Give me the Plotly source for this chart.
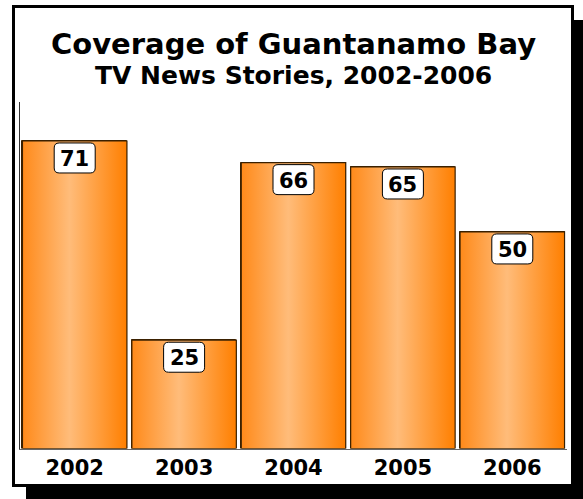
import plotly.graph_objects as go

years = ["2002", "2003", "2004", "2005", "2006"]
stories = [71, 25, 66, 65, 50]
title_line1 = "Coverage of Guantanamo Bay"
title_line2 = "TV News Stories, 2002-2006"

W, H = 583, 499
BAR_W = 0.955
FONT = "DejaVu Sans"
grad = [[0.0, "#FF8A1A"], [0.45, "#FFBC7A"], [1.0, "#FF7F00"]]

xs = list(range(len(years)))

fig = go.Figure()
fig.add_trace(go.Bar(
    x=xs, y=stories, width=BAR_W,
    marker=dict(color="#FF9A3A", line=dict(color="#3a2000", width=1)),
    hoverinfo="skip", showlegend=False,
))
# gradient overlay for each bar, built from the same data
for i, v in zip(xs, stories):
    x0, x1 = i - BAR_W / 2, i + BAR_W / 2
    fig.add_trace(go.Scatter(
        x=[x0, x1, x1, x0, x0], y=[0, 0, v, v, 0],
        mode="lines", fill="toself",
        fillgradient=dict(type="horizontal", colorscale=grad),
        line=dict(color="#3a2000", width=1.2),
        hoverinfo="skip", showlegend=False,
    ))

def rounded_box(l, r, t, b, rad):
    return (f"M {l+rad},{t} L {r-rad},{t} Q {r},{t} {r},{t-rad} "
            f"L {r},{b+rad} Q {r},{b} {r-rad},{b} L {l+rad},{b} "
            f"Q {l},{b} {l},{b+rad} L {l},{t-rad} Q {l},{t} {l+rad},{t} Z")

BOX_PATH = rounded_box(-20.5, 20.5, -2, -32, 5)

shapes = []
for i, v in zip(xs, stories):
    shapes.append(dict(
        type="path", xref="x", yref="y",
        xsizemode="pixel", ysizemode="pixel", xanchor=i, yanchor=v,
        path=BOX_PATH, fillcolor="white",
        line=dict(color="black", width=1), layer="above",
    ))
    fig.add_annotation(
        x=i, y=v, xref="x", yref="y", yanchor="top", yshift=-2,
        text=f"<b>{v}</b>", showarrow=False,
        font=dict(family=FONT, size=21, color="black"),
        width=41, height=30, borderpad=0,
    )

def py(p):
    return 1 - p / H

def px(p):
    return p / W

fig.add_annotation(x=px(293), y=py(44), xref="paper", yref="paper",
                   text=f"<b>{title_line1}</b>", showarrow=False,
                   font=dict(family=FONT, size=29, color="black"),
                   xanchor="center", yanchor="middle")
fig.add_annotation(x=px(293), y=py(75), xref="paper", yref="paper",
                   text=f"<b>{title_line2}</b>", showarrow=False,
                   font=dict(family=FONT, size=25, color="black"),
                   xanchor="center", yanchor="middle")

shapes = [
    # drop shadow
    dict(type="rect", xref="paper", yref="paper",
         x0=px(26), x1=px(W + 20), y0=py(H + 20), y1=py(20),
         fillcolor="black", line=dict(width=0), layer="below"),
    # frame
    dict(type="rect", xref="paper", yref="paper",
         x0=px(13.5), x1=px(572.5), y0=py(485.5), y1=py(6.5),
         fillcolor="white", line=dict(color="black", width=3), layer="below"),
] + shapes

fig.update_layout(
    width=W, height=H,
    margin=dict(l=0, r=0, t=0, b=0),
    paper_bgcolor="white",
    plot_bgcolor="rgba(0,0,0,0)",
    shapes=shapes,
    bargap=0,
    xaxis=dict(
        domain=[px(20), px(567)], range=[-0.5, 4.5],
        tickvals=xs, ticktext=[f"<b>{y}</b>" for y in years],
        tickfont=dict(family=FONT, size=21, color="black"),
        showgrid=False, zeroline=False,
        showline=True, linecolor="#666666", linewidth=1,
        ticks="", fixedrange=True,
    ),
    yaxis=dict(
        domain=[py(448.5), py(102)], range=[0, 80],
        showticklabels=False, showgrid=False, zeroline=False,
        showline=True, linecolor="#333333", linewidth=1,
        ticks="", fixedrange=True,
    ),
)

fig.write_html("out.html")
